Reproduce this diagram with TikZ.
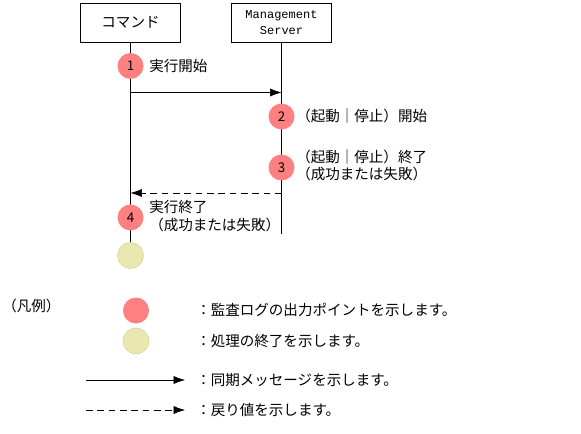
\documentclass[tikz,border=0pt]{standalone}
\usepackage{fontspec}
\setmainfont{Noto Sans CJK JP}
\newfontfamily\monofont{Liberation Mono}
\usepackage{xcolor}
\usetikzlibrary{arrows.meta, positioning}

\definecolor{auditred}{RGB}{255,128,128}
\definecolor{donefill}{RGB}{232,232,176}
\definecolor{doneline}{RGB}{210,210,150}

\begin{document}
\begin{tikzpicture}[x=0.75pt, y=-0.75pt,
    obj/.style={rectangle, draw, minimum width=75pt, minimum height=29pt, inner sep=1pt},
    audit/.style={circle, fill=auditred, minimum size=19.5pt, inner sep=0pt, font=\fontsize{10}{11}\selectfont},
    done/.style={circle, fill=donefill, draw=doneline, minimum size=19.5pt, inner sep=0pt},
    lbl/.style={anchor=west, inner sep=0pt, align=left, font=\fontsize{10.9}{13}\selectfont},
    msg/.style={-{Latex[length=8.5pt, width=6pt]}},
    ret/.style={msg, dash pattern=on 5pt off 3.5pt}]
    \useasboundingbox (0,0) rectangle (581,434);

    % objects
    \node [obj, font=\fontsize{10.9}{13}\selectfont] (cmd) at (130.5,22.5) {コマンド};
    \node [obj, align=center, font=\monofont\fontsize{9}{12}\selectfont] (srv) at (281.5,22.5) {Management\\Server};

    % lifelines
    \coordinate (cmdend) at (130.5,243);
    \coordinate (srvend) at (281.5,234);
    \draw (cmd.south) -- (cmdend);
    \draw (srv.south) -- (srvend);

    % messages
    \coordinate (call0) at (130.5,92.5);
    \coordinate (call1) at (281.5,92.5);
    \coordinate (back0) at (281.5,193);
    \coordinate (back1) at (130.5,193);
    \draw [msg] (call0) -- (call1);
    \draw [ret] (back0) -- (back1);

    % audit points
    \node [audit] (p1) at (130.5,66) {1};
    \node [audit] (p2) at (281.5,116.5) {2};
    \node [audit] (p3) at (281.5,167.5) {3};
    \node [audit] (p4) at (130.5,217.5) {4};
    \node [done] (end) at (130.5,255.5) {};

    \node [lbl] (t1) at (149,66) {実行開始};
    \node [lbl] (t2) at (296,116) {（起動｜停止）開始};
    \node [lbl] (t3) at (296,165) {（起動｜停止）終了\\（成功または失敗）};
    \node [lbl] (t4) at (149,216) {実行終了\\（成功または失敗）};

    % Legend
    \node [lbl] (legend) at (2,306) {（凡例）};
    \node [audit] (lgaudit) at (136,310.5) {};
    \node [done] (lgdone) at (136,341) {};
    \coordinate (lgmsg0) at (86,380);
    \coordinate (lgmsg1) at (185,380);
    \coordinate (lgret0) at (86,410);
    \coordinate (lgret1) at (185,410);
    \draw [msg] (lgmsg0) -- (lgmsg1);
    \draw [ret] (lgret0) -- (lgret1);
    \node [lbl] (lt1) at (196,310) {：監査ログの出力ポイントを示します。};
    \node [lbl] (lt2) at (196,341) {：処理の終了を示します。};
    \node [lbl] (lt3) at (196,380) {：同期メッセージを示します。};
    \node [lbl] (lt4) at (196,410) {：戻り値を示します。};
\end{tikzpicture}
\end{document}
